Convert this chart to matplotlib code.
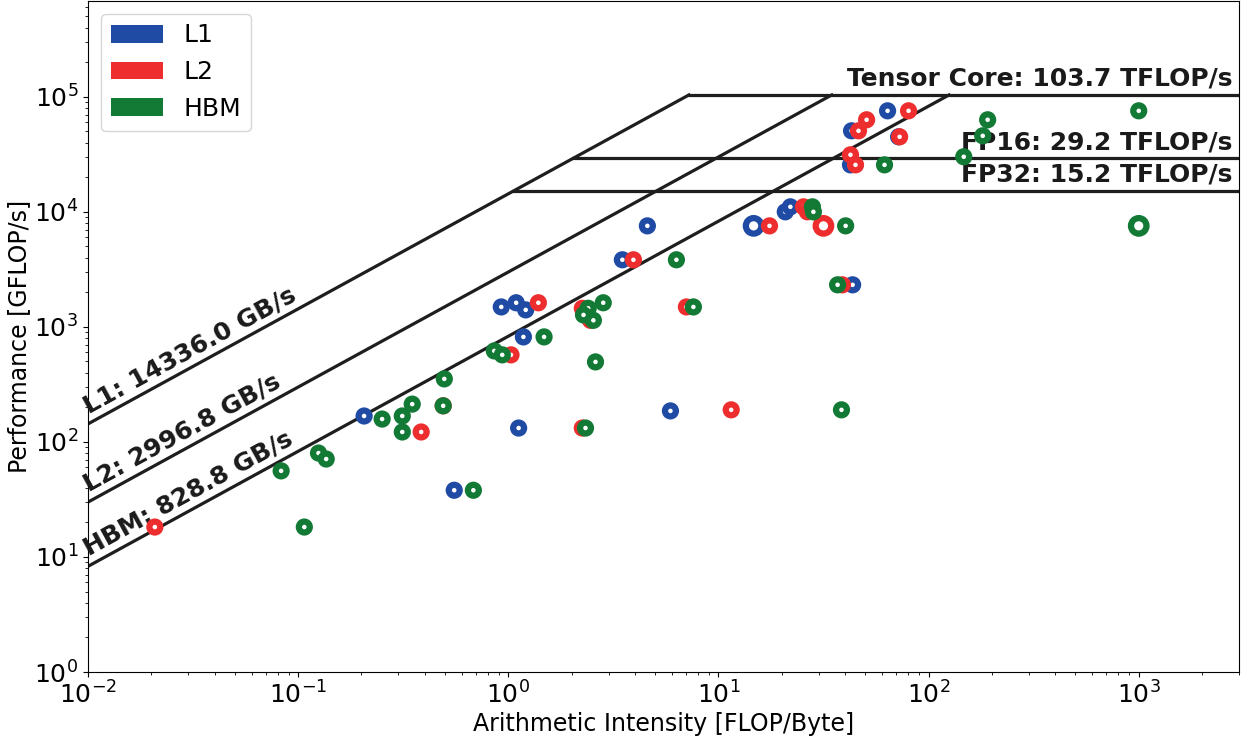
import numpy as np
import matplotlib.pyplot as plt
from matplotlib.patches import Patch

# roofline ceilings
bw_names = ['L1', 'L2', 'HBM']
bw_values = [14336.0, 2996.8, 828.8]            # GB/s
peak_names = ['Tensor Core', 'FP16', 'FP32']
peak_values = [103.7, 29.2, 15.2]               # TFLOP/s

# measured kernels: arithmetic intensity [FLOP/Byte], performance [GFLOP/s]
l1_ai = [63.8, 43.0, 72.0, 42.5, 20.8, 22.0, 14.7, 4.59, 3.49, 0.926, 1.09, 1.21,
         2.33, 1.18, 0.206, 1.12, 5.91, 43.5, 0.553]
l1_perf = [75500, 50600, 44900, 25600, 10000, 11050, 7550, 7550, 3830, 1490, 1620, 1405,
           1270, 818, 168, 132, 186, 2320, 38]
l1_big = [6]

l2_ai = [80.3, 50.7, 46.4, 72.8, 42.5, 44.9, 25.4, 26.5, 31.6, 17.5, 3.94, 1.39,
         2.25, 2.46, 7.04, 1.03, 0.385, 0.49, 2.25, 11.5, 38.9, 0.0208]
l2_perf = [75500, 63100, 50600, 44900, 31300, 25600, 11050, 10000, 7550, 7550, 3830, 1620,
           1450, 1140, 1490, 571, 122, 206, 132, 190, 2320, 18.2]
l2_big = [8]

hbm_ai = [1000, 191, 181, 147, 61.7, 28.0, 28.3, 40.3, 1000, 6.31, 7.6, 2.40, 2.28,
          2.54, 2.83, 1.48, 0.858, 0.936, 2.60, 0.496, 0.251, 0.313, 0.349, 0.49,
          0.313, 2.33, 36.9, 38.5, 0.083, 0.125, 0.136, 0.682, 0.107]
hbm_perf = [75500, 63100, 45800, 30100, 25600, 11050, 10000, 7550, 7550, 3830, 1490, 1450,
            1270, 1140, 1620, 818, 618, 571, 496, 353, 158, 168, 213, 206,
            122, 132, 2320, 190, 56, 80, 71, 38, 18.2]
hbm_big = [8]

colors = ['#1f4ba5', '#ee2e2e', '#127a35']
XMIN, XMAX = 1e-2, 3.0e3
YMIN, YMAX = 1e0, 6.8e5

fig = plt.figure(figsize=(12.41, 7.41), dpi=100)
ax = fig.add_axes([88 / 1241, 69 / 741, 1151 / 1241, 671 / 741])
ax.set_xscale('log')
ax.set_yscale('log')
ax.set_xlim(XMIN, XMAX)
ax.set_ylim(YMIN, YMAX)

# roof lines
peaks = [p * 1000 for p in peak_values]        # -> GFLOP/s
top = max(peaks)
for bw in bw_values:
    ridge = top / bw
    ax.plot([XMIN, ridge], [bw * XMIN, top], color='#1e1e1e', lw=2.3, zorder=2)
ridge_l1 = [p / bw_values[0] for p in peaks]
for p, r in zip(peaks, ridge_l1):
    ax.plot([r, XMAX], [p, p], color='#1e1e1e', lw=2.3, zorder=2)

# label angle of the bandwidth lines on screen
p0 = ax.transData.transform((1e-2, 1.0))
p1 = ax.transData.transform((1e0, 100.0))
angle = np.degrees(np.arctan2(p1[1] - p0[1], p1[0] - p0[0]))

x_lab = 0.0104
for name, bw in zip(bw_names, bw_values):
    ax.annotate(f'{name}: {bw:.1f} GB/s', xy=(x_lab, bw * x_lab), xytext=(0, 3),
                textcoords='offset points', rotation=angle, rotation_mode='anchor',
                ha='left', va='bottom', fontsize=18, fontweight='bold', color='#1a1a1a')

for name, p, pv in zip(peak_names, peaks, peak_values):
    ax.annotate(f'{name}: {pv:.1f} TFLOP/s', xy=(XMAX, p), xytext=(-5, 3),
                textcoords='offset points', ha='right', va='bottom',
                fontsize=18, fontweight='bold', color='#1a1a1a')

# kernels as rings
series = [(l1_ai, l1_perf, l1_big), (l2_ai, l2_perf, l2_big), (hbm_ai, hbm_perf, hbm_big)]
for (ai, perf, big), c in zip(series, colors):
    sizes = np.full(len(ai), 62.0)
    sizes[big] = 125.0
    ax.scatter(ai, perf, s=sizes, facecolors='white', edgecolors=c,
               linewidths=4.5, zorder=3)

ax.set_xlabel('Arithmetic Intensity [FLOP/Byte]', fontsize=17, labelpad=2)
ax.set_ylabel('Performance [GFLOP/s]', fontsize=17, labelpad=2)
ax.tick_params(axis='both', which='major', labelsize=18)

handles = [Patch(facecolor=c, label=n) for c, n in zip(colors, bw_names)]
ax.legend(handles=handles, loc='upper left', fontsize=18, handlelength=2.1)

fig.savefig('out.png', dpi=100)
